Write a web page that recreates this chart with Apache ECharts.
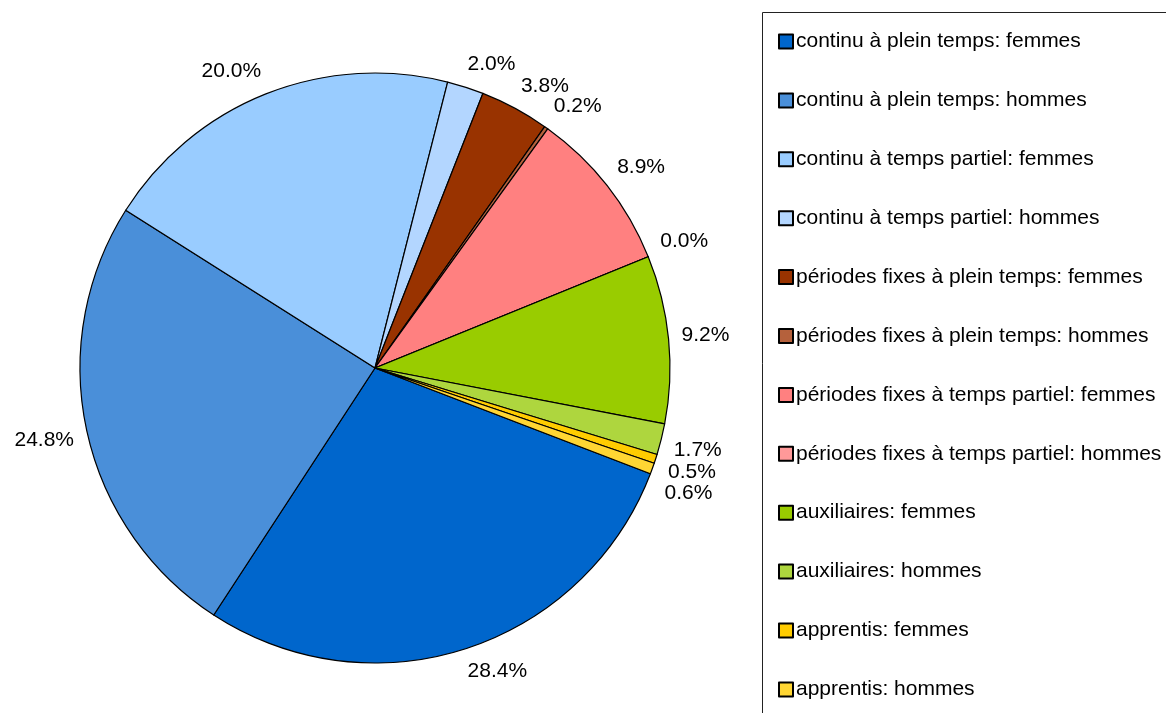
<!DOCTYPE html>
<html>
<head>
<meta charset="utf-8">
<script src="https://cdn.jsdelivr.net/npm/echarts@6/dist/echarts.min.js"></script>
<style>
  html, body { margin: 0; padding: 0; background: #fff; }
  #chart { width: 1166px; height: 713px; }
</style>
</head>
<body>
<div id="chart"></div>
<script>
// categories, in drawing order (clockwise from the bottom-right)
const categories = [
  'continu à plein temps: femmes',
  'continu à plein temps: hommes',
  'continu à temps partiel: femmes',
  'continu à temps partiel: hommes',
  'périodes fixes à plein temps: femmes',
  'périodes fixes à plein temps: hommes',
  'périodes fixes à temps partiel: femmes',
  'périodes fixes à temps partiel: hommes',
  'auxiliaires: femmes',
  'auxiliaires: hommes',
  'apprentis: femmes',
  'apprentis: hommes'
]
// shares in percent
const shares = [28.4, 24.8, 20.0, 2.0, 3.8, 0.2, 8.9, 0.0, 9.2, 1.7, 0.5, 0.6]
const colors = [
  '#0066cc', '#4a8fd9', '#99ccff', '#b3d6ff',
  '#993300', '#b5613c', '#ff8080', '#ff9999',
  '#99cc00', '#aed63e', '#ffcc00', '#ffd633'
]

const CX = 375
const CY = 368
const R = 295
const GAP = 13

const chart = echarts.init(document.getElementById('chart'))

function clamp1(v) {
  return Math.max(-1, Math.min(1, v))
}

// anchor each label a little off the rim, box corner towards the slice
function placeLabel(p) {
  const lr = p.labelRect
  let px, py
  if (p.labelLinePoints && p.labelLinePoints.length) {
    px = p.labelLinePoints[0][0]
    py = p.labelLinePoints[0][1]
  } else {
    px = lr.x + lr.width / 2
    py = lr.y + lr.height / 2
  }
  let ux = px - CX
  let uy = py - CY
  const n = Math.hypot(ux, uy) || 1
  ux /= n
  uy /= n
  const ax = CX + ux * (R + GAP)
  const ay = CY + uy * (R + GAP)
  const out = {
    x: ax + clamp1(ux * 3) * lr.width / 2,
    y: ay + clamp1(uy * 3) * lr.height / 2,
    align: 'center',
    verticalAlign: 'middle'
  }
  if (shares[p.dataIndex] < 2) out.moveOverlap = 'shiftY'
  return out
}

chart.setOption({
  animation: false,
  textStyle: { fontFamily: '"Liberation Sans", Arial, sans-serif' },
  color: colors,
  graphic: [{
    type: 'rect',
    left: 760,
    top: 10,
    shape: { width: 600, height: 800 },
    style: { fill: 'none', stroke: '#222', lineWidth: 1 },
    silent: true
  }],
  legend: {
    orient: 'vertical',
    left: 773,
    top: 26,
    itemWidth: 14,
    itemHeight: 14,
    itemGap: 37.9,
    selectedMode: false,
    icon: 'rect',
    textStyle: {
      fontSize: 21,
      lineHeight: 21,
      color: '#000',
      padding: [0, 0, 0, -2]
    },
    data: categories
  },
  series: [{
    type: 'pie',
    center: [CX, CY],
    radius: R,
    startAngle: -21,
    clockwise: true,
    avoidLabelOverlap: false,
    itemStyle: { borderColor: '#000', borderWidth: 1.2 },
    emphasis: { disabled: true },
    label: {
      show: true,
      position: 'outside',
      fontSize: 21,
      color: '#000',
      overflow: 'none',
      formatter: p => p.value.toFixed(1) + '%'
    },
    labelLine: { show: true, length: 10, length2: 0, lineStyle: { opacity: 0 } },
    labelLayout: placeLabel,
    data: categories.map((name, i) => ({ name: name, value: shares[i] }))
  }]
})
</script>
</body>
</html>
